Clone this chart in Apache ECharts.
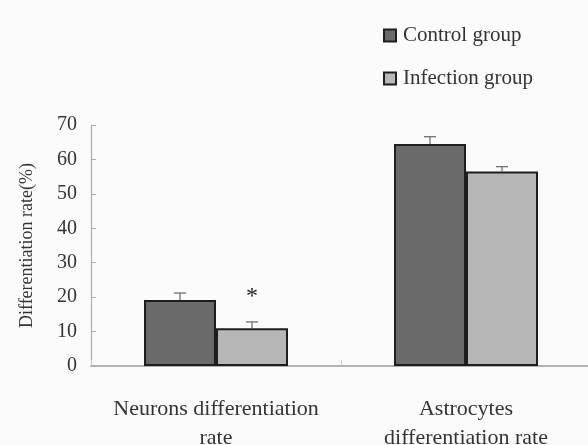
<!DOCTYPE html>
<html><head><meta charset="utf-8">
<script src="https://cdn.jsdelivr.net/npm/echarts@6/dist/echarts.min.js"></script>
<style>html,body{margin:0;padding:0;background:#fbfbfb}#c{width:588px;height:445px}</style>
</head><body><div id="c"></div>
<script>
const categories = ['Neurons differentiation\nrate', 'Astrocytes\ndifferentiation rate'];
const controlValues = [19.2, 64.5];
const controlErrors = [2.0, 2.1];
const infectionValues = [11.0, 56.5];
const infectionErrors = [1.8, 1.4];
const yTicks = [0, 10, 20, 30, 40, 50, 60, 70];
const seriesNames = ['Control group', 'Infection group'];

const chart = echarts.init(document.getElementById('c'));
const BAR_W = 72;
const font = '"Liberation Serif", "DejaVu Serif", serif';

function errSeries(values, errs, offset) {
  return {
    type: 'custom',
    silent: true,
    z: 5,
    data: values.map((v, i) => [i, v, v + errs[i]]),
    renderItem: function (params, api) {
      const lo = api.coord([api.value(0), api.value(1)]);
      const hi = api.coord([api.value(0), api.value(2)]);
      const x = lo[0] + offset;
      const style = { stroke: '#666', lineWidth: 1.2 };
      return {
        type: 'group',
        children: [
          { type: 'line', shape: { x1: x, y1: lo[1], x2: x, y2: hi[1] }, style: style },
          { type: 'line', shape: { x1: x - 6, y1: hi[1], x2: x + 6, y2: hi[1] }, style: style }
        ]
      };
    }
  };
}

chart.setOption({
  backgroundColor: '#fbfbfb',
  animation: false,
  grid: { left: 91, top: 125, bottom: 79, width: 500, containLabel: false, outerBoundsMode: 'none' },
  legend: {
    orient: 'vertical',
    left: 378, top: 20,
    itemGap: 22,
    itemWidth: 12, itemHeight: 12,
    icon: 'rect',
    textStyle: { fontFamily: font, fontSize: 21, color: '#333', padding: [0, 0, 0, 2] },
    data: seriesNames
  },
  xAxis: {
    type: 'category',
    data: categories,
    axisLine: { lineStyle: { color: '#999', width: 1.5 } },
    axisTick: { show: true, inside: true, length: 6, lineStyle: { color: '#ccc' } },
    axisLabel: { interval: 0, hideOverlap: false, fontFamily: font, fontSize: 22, color: '#333', margin: 29, lineHeight: 29 }
  },
  yAxis: {
    type: 'value',
    min: yTicks[0], max: yTicks[yTicks.length - 1], interval: 10,
    name: 'Differentiation rate(%)',
    nameLocation: 'middle',
    nameGap: 55,
    nameTextStyle: { fontFamily: font, fontSize: 18, color: '#333' },
    axisLine: { show: true, lineStyle: { color: '#aaa', width: 1.2 } },
    axisTick: { show: true, inside: true, length: 5, lineStyle: { color: '#aaa' } },
    splitLine: { show: false },
    axisLabel: { fontFamily: font, fontSize: 20, color: '#333', margin: 14 }
  },
  series: [
    {
      name: seriesNames[0], type: 'bar', data: controlValues,
      barWidth: BAR_W, barGap: '0%',
      itemStyle: { color: '#6a6a6a', borderColor: '#1e1e1e', borderWidth: 2 }
    },
    {
      name: seriesNames[1], type: 'bar', data: infectionValues,
      barWidth: BAR_W, barGap: '0%',
      itemStyle: { color: '#b7b7b7', borderColor: '#1e1e1e', borderWidth: 2 },
      markPoint: {
        symbol: 'circle', symbolSize: 0,
        label: { show: true, formatter: '*', fontFamily: font, fontSize: 24, color: '#222', offset: [0, 0] },
        data: [{ coord: [0, 20] }]
      }
    },
    errSeries(controlValues, controlErrors, -BAR_W / 2),
    errSeries(infectionValues, infectionErrors, BAR_W / 2)
  ]
});
</script></body></html>
